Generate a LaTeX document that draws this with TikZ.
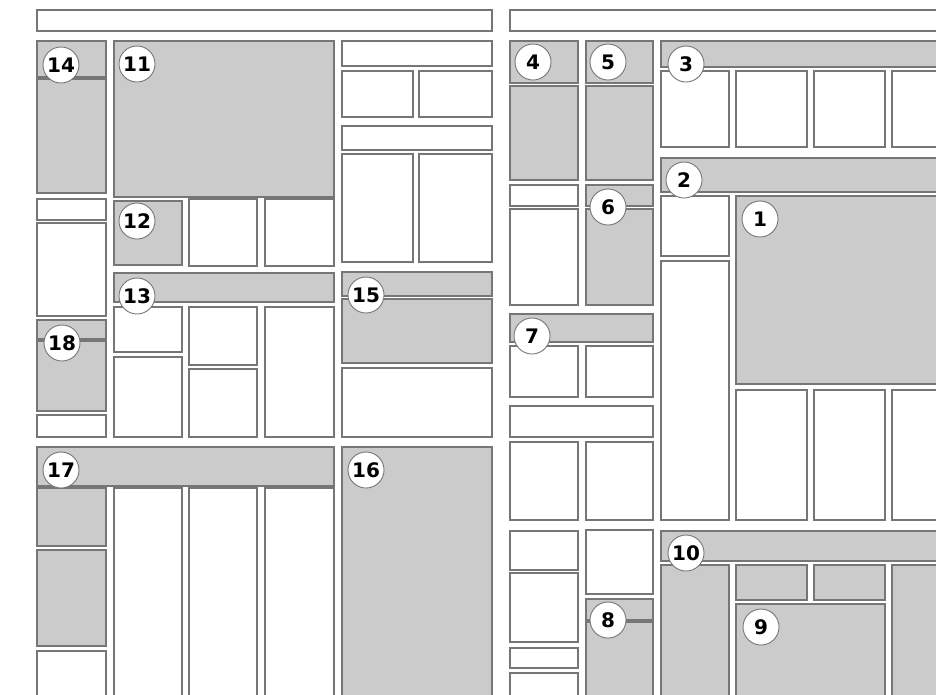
\documentclass[tikz,border=0pt]{standalone}
\usepackage{fontspec}
\newfontfamily\numfont{DejaVu Sans}
\definecolor{lc}{RGB}{122,117,117}
\definecolor{gfill}{RGB}{203,203,203}
\begin{document}
\begin{tikzpicture}[x=1pt,y=-1pt,
  wb/.style={draw=lc, line width=1.2pt, fill=white},
  gb/.style={draw=lc, line width=1.2pt, fill=gfill},
  num/.style={circle, draw=lc, line width=0.9pt, fill=white, minimum size=36pt, inner sep=0pt,
    font=\numfont\bfseries\fontsize{20}{20}\selectfont}]
\useasboundingbox (0,0) rectangle (936,694);
\clip (0,0) rectangle (936,694);
% top bars
\draw[wb] (37,10) rectangle (492,31);
\draw[wb] (510,10) rectangle (945,31);
% gray boxes
\foreach \a/\b/\c/\d in {37/41/106/77, 37/79/106/193, 114/41/334/197, 114/201/182/265,
  114/273/334/302, 37/320/106/339, 37/341/106/411, 342/272/492/296, 342/299/492/363,
  342/447/492/700, 37/447/334/486, 37/488/106/546, 37/550/106/646,
  510/41/578/83, 510/86/578/180, 586/41/653/83, 586/86/653/180,
  586/185/653/206, 586/209/653/305, 510/314/653/342, 586/599/653/620, 586/622/653/700,
  661/41/945/67, 661/158/945/192, 736/196/945/384, 661/531/945/561,
  661/565/729/700, 736/565/807/600, 814/565/885/600, 736/604/885/700, 892/565/945/700}
  \draw[gb] (\a,\b) rectangle (\c,\d);
% white boxes
\foreach \a/\b/\c/\d in {37/199/106/220, 37/223/106/316, 37/415/106/437, 37/651/106/700,
  189/199/257/266, 265/199/334/266,
  114/307/182/352, 114/357/182/437, 189/307/257/365, 189/369/257/437, 265/307/334/437,
  114/488/182/700, 189/488/257/700, 265/488/334/700,
  342/41/492/66, 342/71/413/117, 419/71/492/117, 342/126/492/150, 342/154/413/262,
  419/154/492/262, 342/368/492/437,
  510/185/578/206, 510/209/578/305,
  510/346/578/397, 586/346/653/397, 510/406/653/437, 510/442/578/520, 586/442/653/520,
  510/531/578/570, 510/573/578/642, 510/648/578/668, 510/673/578/700, 586/530/653/594,
  661/71/729/147, 736/71/807/147, 814/71/885/147, 892/71/945/147,
  661/196/729/256, 661/261/729/520,
  736/390/807/520, 814/390/885/520, 892/390/945/520}
  \draw[wb] (\a,\b) rectangle (\c,\d);
% numbered circles
\node[num] (n1) at (760,219) {1};
\node[num] (n2) at (684,180) {2};
\node[num] (n3) at (686,64) {3};
\node[num] (n4) at (533,62) {4};
\node[num] (n5) at (608,62) {5};
\node[num] (n6) at (608,207) {6};
\node[num] (n7) at (532,336) {7};
\node[num] (n8) at (608,620) {8};
\node[num] (n9) at (761,627) {9};
\node[num] (n10) at (686,553) {10};
\node[num] (n11) at (137,64) {11};
\node[num] (n12) at (137,221) {12};
\node[num] (n13) at (137,296) {13};
\node[num] (n14) at (61,65) {14};
\node[num] (n15) at (366,295) {15};
\node[num] (n16) at (366,470) {16};
\node[num] (n17) at (61,470) {17};
\node[num] (n18) at (62,343) {18};
\end{tikzpicture}
\end{document}
